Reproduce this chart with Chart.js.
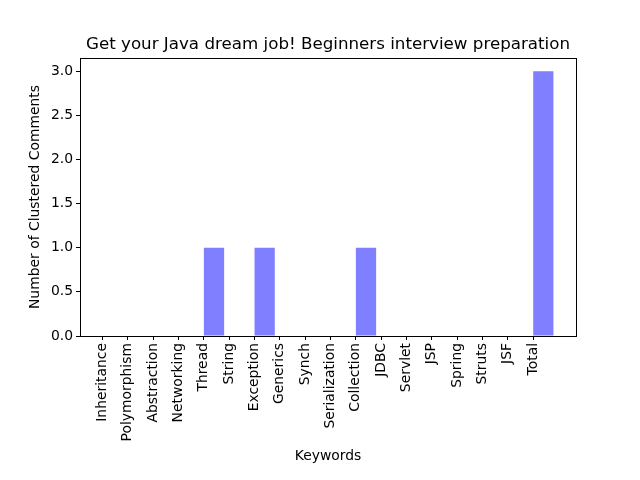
<!DOCTYPE html>
<html>
<head>
<meta charset="utf-8">
<script src="https://cdn.jsdelivr.net/npm/chart.js@4"></script>
<style>
html,body{margin:0;padding:0;background:#fff;}
#wrap{width:640px;height:480px;}
</style>
</head>
<body>
<div id="wrap"><canvas id="c" width="640" height="480"></canvas></div>
<script>
const categories = ["Inheritance","Polymorphism","Abstraction","Networking","Thread","String","Exception","Generics","Synch","Serialization","Collection","JDBC","Servlet","JSP","Spring","Struts","JSF","Total"];
const counts = [0,0,0,0,1,0,1,0,0,0,1,0,0,0,0,0,0,3];
const yTicks = [0,0.5,1.0,1.5,2.0,2.5,3.0];
const titleText = "Get your Java dream job! Beginners interview preparation";
const xLabel = "Keywords";
const yLabel = "Number of Clustered Comments";

const FONT = "DejaVu Sans";
const barWidth = 0.8;

const decor = {
  id: 'decor',
  afterDraw(chart) {
    const {ctx, chartArea: a} = chart;
    ctx.save();
    ctx.strokeStyle = '#000';
    ctx.lineWidth = 1;
    ctx.strokeRect(Math.round(a.left)+0.5, Math.round(a.top)+0.5, Math.round(a.right-a.left), Math.round(a.bottom-a.top));
    ctx.fillStyle = '#000';
    ctx.textAlign = 'center';
    ctx.textBaseline = 'middle';
    const cx = (a.left + a.right) / 2;
    ctx.font = '16.7px "' + FONT + '"';
    ctx.fillText(titleText, cx, a.top - 13);
    ctx.font = '13.9px "' + FONT + '"';
    ctx.fillText(xLabel, cx, 456);
    ctx.translate(35, (a.top + a.bottom) / 2);
    ctx.rotate(-Math.PI / 2);
    ctx.fillText(yLabel, 0, 0);
    ctx.restore();
  }
};

new Chart(document.getElementById('c'), {
  type: 'bar',
  data: {
    datasets: [{
      data: counts.map((v, i) => ({x: i + barWidth / 2, y: v})),
      backgroundColor: 'rgba(0,0,255,0.5)',
      borderWidth: 0,
      inflateAmount: 0,
      categoryPercentage: 1.0,
      barPercentage: barWidth
    }]
  },
  options: {
    responsive: false,
    animation: false,
    events: [],
    layout: {padding: {top: 58, right: 64, left: 0, bottom: 0}},
    plugins: {legend: {display: false}, title: {display: false}, tooltip: {enabled: false}},
    scales: {
      x: {
        type: 'linear',
        offset: false,
        min: -0.89,
        max: 18.69,
        afterFit(s) { s.height = 144; },
        afterBuildTicks(s) { s.ticks = categories.map((c, i) => ({value: i})); },
        grid: {display: true, offset: false, drawOnChartArea: false, drawTicks: true, tickLength: 4, color: '#000', tickColor: '#000'},
        border: {display: true, color: '#000'},
        ticks: {
          autoSkip: false,
          minRotation: 90,
          maxRotation: 90,
          padding: 3,
          color: '#000',
          font: {family: FONT, size: 13.9},
          callback: (v) => categories[v]
        }
      },
      y: {
        type: 'linear',
        min: 0,
        max: 3.15,
        afterFit(s) { s.width = 80; },
        afterBuildTicks(s) { s.ticks = yTicks.map(v => ({value: v})); },
        grid: {display: true, drawOnChartArea: false, drawTicks: true, tickLength: 4, color: '#000', tickColor: '#000'},
        border: {display: true, color: '#000'},
        ticks: {
          padding: 3,
          color: '#000',
          font: {family: FONT, size: 13.9},
          callback: (v) => Number(v).toFixed(1)
        }
      }
    }
  },
  plugins: [decor]
});
</script>
</body>
</html>
